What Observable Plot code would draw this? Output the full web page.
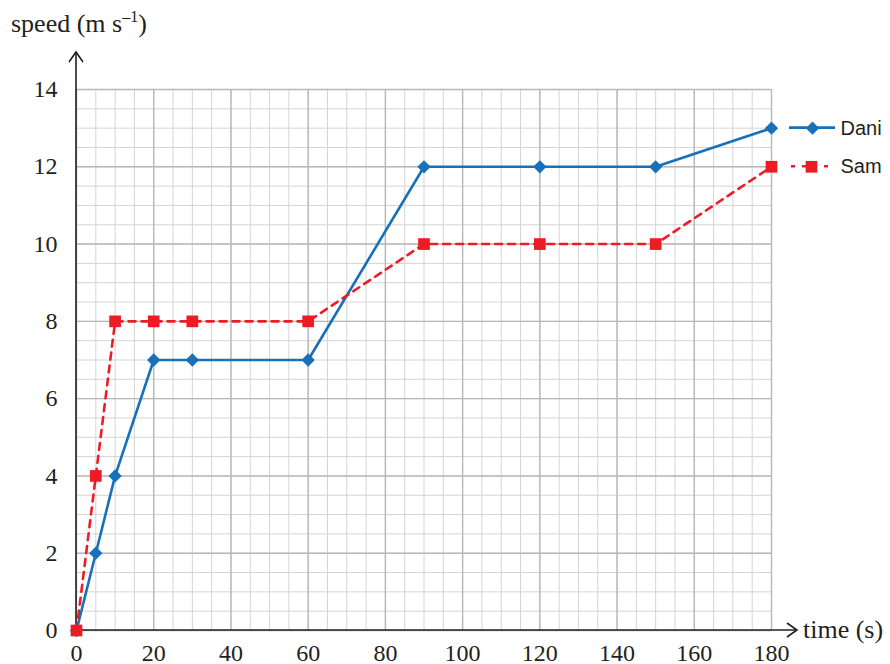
<!DOCTYPE html>
<html><head><meta charset="utf-8">
<script src="https://cdn.jsdelivr.net/npm/d3@7"></script>
<script src="https://cdn.jsdelivr.net/npm/@observablehq/plot@0.6"></script>
<style>body{margin:0;background:#fff;} svg{display:block}
svg text.serifText { font-family: "Liberation Serif", "Times New Roman", serif !important; }
svg text.sansText { font-family: "Liberation Sans", Arial, sans-serif !important; }
</style>
</head><body><div id="chart"></div>
<script>
const times = [0, 5, 10, 20, 30, 60, 90, 120, 150, 180];
const dani = [0, 2, 4, 7, 7, 7, 12, 12, 12, 13];
const sam = [0, 4, 8, 8, 8, 8, 10, 10, 10, 12];
const seriesNames = ["Dani", "Sam"];
const xTicks = [0, 20, 40, 60, 80, 100, 120, 140, 160, 180];
const yTicks = [0, 2, 4, 6, 8, 10, 12, 14];
const xMinor = d3.range(0, 181, 5);
const yMinor = d3.range(0, 14.01, 0.5);
const xLabel = "time (s)";
const yLabelMain = "speed (m s";
const yLabelSup = "\u20131";
const yLabelEnd = ")";

const blue = "#1770b8";
const red = "#ed1c24";
const serif = "Liberation Serif";
const sans = "Liberation Sans";

const daniRows = times.map((t, i) => ({t, v: dani[i], s: seriesNames[0]}));
const samRows = times.map((t, i) => ({t, v: sam[i], s: seriesNames[1]}));

const chart = Plot.plot({
  width: 890, height: 664,
  marginLeft: 76, marginRight: 119, marginTop: 89, marginBottom: 34,
  x: {domain: [0, 180]},
  y: {domain: [0, 14]},
  style: {fontSize: "24px", color: "#231f20", background: "#fff", overflow: "visible"},
  marks: [
    Plot.gridX(xMinor, {stroke: "#d4d4d4", strokeOpacity: 1, strokeWidth: 1}),
    Plot.gridY(yMinor, {stroke: "#d4d4d4", strokeOpacity: 1, strokeWidth: 1}),
    Plot.gridX(xTicks, {stroke: "#b8b8b8", strokeOpacity: 1, strokeWidth: 1.4}),
    Plot.gridY(yTicks, {stroke: "#b8b8b8", strokeOpacity: 1, strokeWidth: 1.4}),
    Plot.axisX(xTicks, {tickSize: 0, tickPadding: 13, label: null, fontSize: 24, fontFamily: serif, fill: "#231f20"}),
    Plot.axisY(yTicks, {tickSize: 0, tickPadding: 19, label: null, fontSize: 24, fontFamily: serif, fill: "#231f20"}),
    Plot.line(daniRows, {x: "t", y: "v", stroke: blue, strokeWidth: 2.6}),
    Plot.line(samRows, {x: "t", y: "v", stroke: red, strokeWidth: 2.6, strokeDasharray: "7,6"}),
    Plot.dot(daniRows, {x: "t", y: "v", symbol: "diamond2", r: 6, fill: blue, stroke: "none"}),
    Plot.dot(samRows, {x: "t", y: "v", symbol: "square", r: 6.6, fill: red, stroke: "none"}),
    // legend symbols and labels, anchored to each series' last point
    Plot.dot([daniRows.at(-1)], {x: "t", y: "v", dx: 41, symbol: "diamond2", r: 6, fill: blue, stroke: "none"}),
    Plot.dot([samRows.at(-1)], {x: "t", y: "v", dx: 40, symbol: "square", r: 6.6, fill: red, stroke: "none"}),
    Plot.text([daniRows.at(-1), samRows.at(-1)], {x: "t", y: "v", text: "s", dx: 69, textAnchor: "start", fontFamily: sans, fontSize: 20, fill: "#231f20"})
  ]
});

const svg = d3.select(chart);
const xs = chart.scale("x"), ys = chart.scale("y");
const x0 = xs.apply(0), y0 = ys.apply(0), xEnd = xs.apply(180);

// fonts: serif for axis text, sans for legend
svg.selectAll("text").classed("serifText", true);
svg.selectAll("g[aria-label='text'] text").classed("serifText", false).classed("sansText", true);

// legend line segments
const legendG = svg.append("g");
legendG.append("line").attr("x1", xEnd + 18).attr("x2", xEnd + 64)
  .attr("y1", ys.apply(dani.at(-1))).attr("y2", ys.apply(dani.at(-1)))
  .attr("stroke", blue).attr("stroke-width", 2.6);
legendG.append("line").attr("x1", xEnd + 18).attr("x2", xEnd + 64)
  .attr("y1", ys.apply(sam.at(-1))).attr("y2", ys.apply(sam.at(-1)))
  .attr("stroke", red).attr("stroke-width", 2.6).attr("stroke-dasharray", "4,7").attr("stroke-dashoffset", -2);

// axis lines with open arrowheads
const ax = svg.append("g").attr("stroke", "#231f20").attr("fill", "none").attr("stroke-width", 1.6);
const yTop = 52, xRight = 797;
ax.append("line").attr("x1", x0).attr("x2", x0).attr("y1", y0).attr("y2", yTop);
ax.append("polyline").attr("points", `${x0 - 7},${yTop + 10} ${x0},${yTop} ${x0 + 7},${yTop + 10}`);
ax.append("line").attr("x1", x0).attr("x2", xRight).attr("y1", y0).attr("y2", y0);
ax.append("polyline").attr("points", `${xRight - 10},${y0 - 7} ${xRight},${y0} ${xRight - 10},${y0 + 7}`);

// bring data marks above axis lines
svg.selectAll("g[aria-label='line'], g[aria-label='dot']").raise();
svg.selectAll("g[aria-label='text']").raise();

// axis titles
const t = svg.append("text").attr("x", 11).attr("y", 32).attr("text-anchor", "start").classed("serifText", true)
  .attr("font-size", 26).attr("fill", "#231f20");
t.append("tspan").text(yLabelMain);
t.append("tspan").text(yLabelSup).attr("font-size", 16).attr("dy", -10);
t.append("tspan").text(yLabelEnd).attr("dy", 10);
svg.append("text").attr("x", 803).attr("y", 638).attr("text-anchor", "start").classed("serifText", true)
  .attr("font-size", 26).attr("fill", "#231f20").text(xLabel);

document.getElementById("chart").append(chart);
</script>
</body></html>
